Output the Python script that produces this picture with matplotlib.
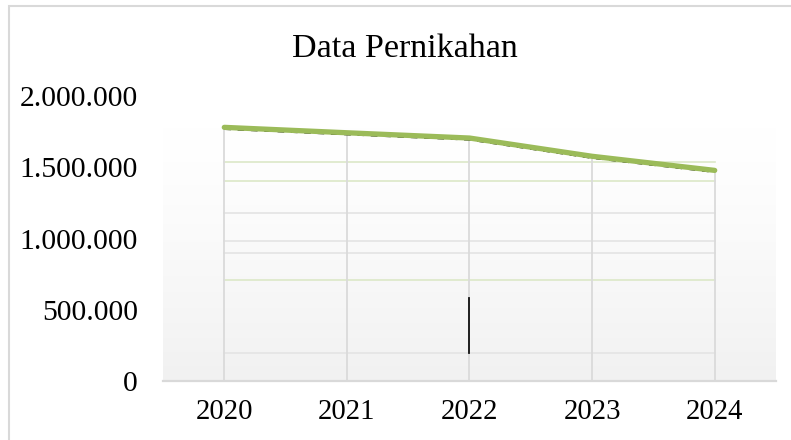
import numpy as np
import matplotlib
matplotlib.use("Agg")
import matplotlib.pyplot as plt
from matplotlib.ticker import FuncFormatter
from matplotlib.patches import Rectangle
import matplotlib.transforms as mtransforms

# ---- data ----
years = [2020, 2021, 2022, 2023, 2024]
marriages = [1780000, 1742000, 1705000, 1577000, 1478000]
y_ticks = [0, 500000, 1000000, 1500000, 2000000]
title = "Data Pernikahan"

# faint rendering artefacts visible in the reference image
green_streaks = [1540000, 1407000, 707000]
gray_streaks = [1176000, 980000, 896000, 196000]
black_mark = (2022, 196000, 580000)

SERIF = ["Liberation Serif", "DejaVu Serif"]
plt.rcParams["font.family"] = SERIF

fig = plt.figure(figsize=(7.91, 4.40), dpi=100)
W, H = 791, 440
ax = fig.add_axes([163 / W, (H - 381) / H, 613 / W, 285 / H])
ax.set_xlim(years[0] - 0.5, years[-1] + 0.5)
ax.set_ylim(y_ticks[0], y_ticks[-1])
ax.patch.set_alpha(0)

# gradient panel
panel_top = 1771000
n = 256
t = np.linspace(0, 1, n) ** 1.3
top_c = np.array([1.0, 1.0, 1.0])
bot_c = np.array([0.945, 0.945, 0.945])
grad = (top_c[None, :] * (1 - t[:, None]) + bot_c[None, :] * t[:, None])
grad = np.repeat(grad[:, None, :], 2, axis=1)
ax.imshow(grad, extent=[years[0] - 0.5, years[-1] + 0.5, 0, panel_top],
          aspect="auto", origin="upper", zorder=0, interpolation="bilinear")

# artefact streaks
for v in green_streaks:
    ax.plot([years[0], years[-1]], [v, v], color="#dce8c8", lw=1.2, zorder=1)
for v in gray_streaks:
    ax.plot([years[0], years[-1]], [v, v], color="#e4e4e4", lw=1.2, zorder=1)

# drop lines from each point to the axis
ax.vlines(years, 0, marriages, color="#dadada", lw=1.3, zorder=1)

ax.plot([black_mark[0], black_mark[0]], [black_mark[1], black_mark[2]],
        color="#111111", lw=1.3, zorder=2)

# shadow (black dashed) slightly offset below
shadow_tr = mtransforms.offset_copy(ax.transData, fig=fig, x=0, y=-1.5, units="dots")
ax.plot(years, marriages, color="black", lw=1.6, ls=(0, (3, 3)),
        transform=shadow_tr, zorder=3, solid_capstyle="butt")
ax.plot(years, marriages, color="#9bbb59", lw=3.8, zorder=4,
        solid_joinstyle="round", solid_capstyle="round")

# axes styling
for s in ["left", "right", "top"]:
    ax.spines[s].set_visible(False)
ax.spines["bottom"].set_color("#d9d9d9")
ax.spines["bottom"].set_linewidth(1.6)
ax.spines["bottom"].set_zorder(5)

ax.set_xticks(years)
ax.set_xticklabels([str(y) for y in years])
ax.set_yticks(y_ticks)
ax.yaxis.set_major_formatter(FuncFormatter(lambda v, p: f"{int(v):,}".replace(",", ".")))
ax.tick_params(axis="both", length=0, colors="black")
ax.tick_params(axis="y", pad=18, labelsize=21.3)
ax.tick_params(axis="x", pad=13, labelsize=20.7)
for lab in ax.get_xticklabels() + ax.get_yticklabels():
    lab.set_fontfamily(SERIF)

fig.text(405 / W, 1 - 57 / H, title, ha="center", va="baseline",
         fontsize=24.5, family=SERIF)

# outer frame (left and top edges visible)
fig.patches.append(Rectangle((9 / W, -0.1), 1.2, 1 - 6 / H + 0.1,
                             transform=fig.transFigure, fill=False,
                             edgecolor="#d9d9d9", lw=1.5))

fig.savefig("out.png", dpi=100)
